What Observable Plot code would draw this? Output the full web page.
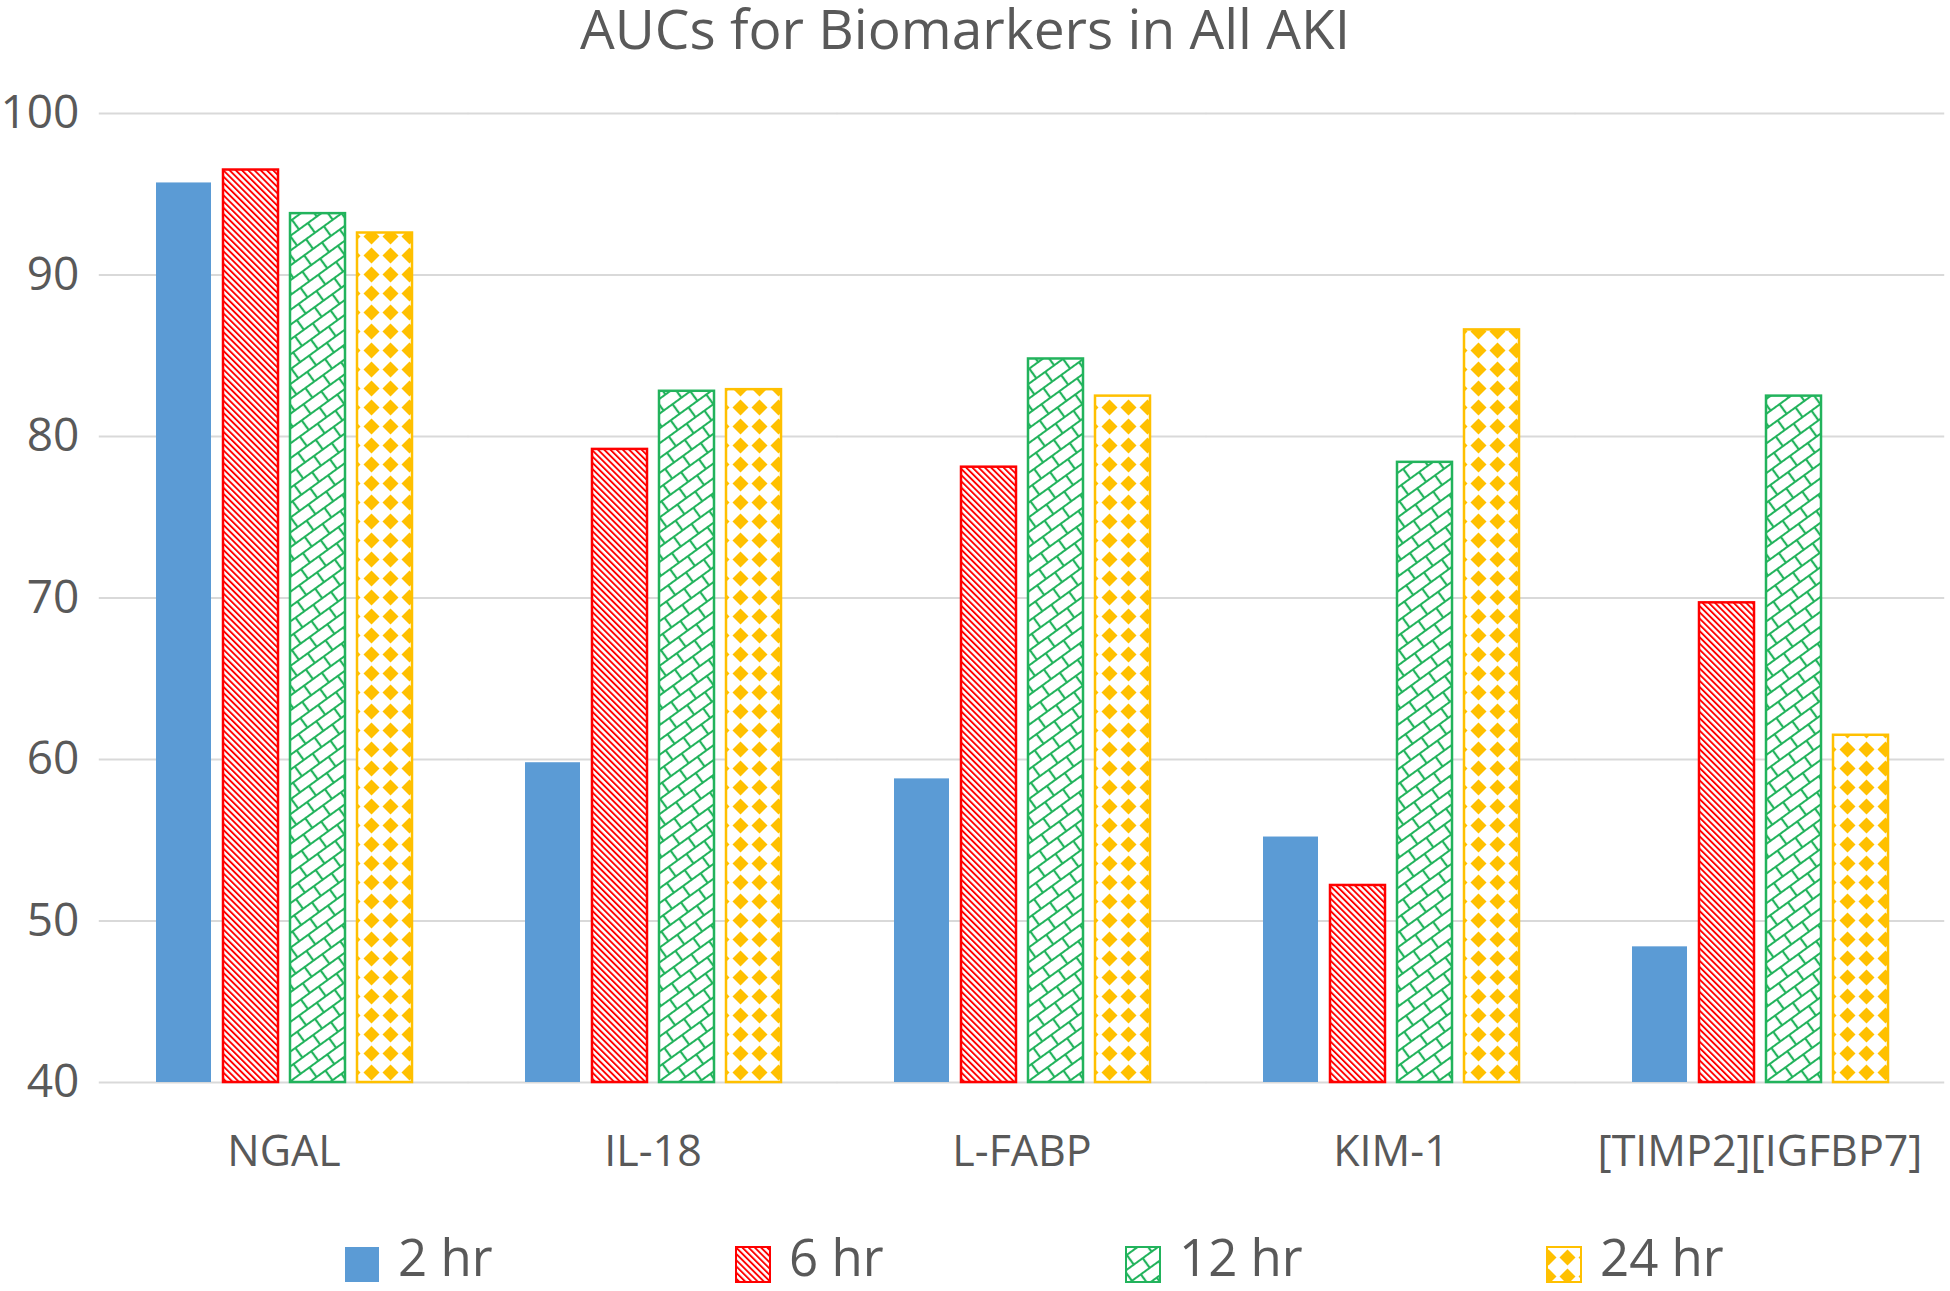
<!DOCTYPE html>
<html><head><meta charset="utf-8">
<script src="https://cdn.jsdelivr.net/npm/d3@7"></script>
<script src="https://cdn.jsdelivr.net/npm/@observablehq/plot@0.6"></script>
<style>
body{margin:0;background:#fff;width:1950px;height:1291px;overflow:hidden;font-family:"Open Sans",sans-serif;color:#595959}
#title{height:56px;text-align:center;font-size:55px;line-height:56px;padding-right:20px;box-sizing:border-box;white-space:nowrap}
#chart svg{display:block}
#legend svg{display:block}
</style></head><body>
<div id="title">AUCs for Biomarkers in All AKI</div>
<div id="chart"></div>
<div id="legend"></div>
<script>
const categories = ["NGAL", "IL-18", "L-FABP", "KIM-1", "[TIMP2][IGFBP7]"];
const series = ["2 hr", "6 hr", "12 hr", "24 hr"];
const auc2hr  = [95.7, 59.8, 58.8, 55.2, 48.4];
const auc6hr  = [96.5, 79.2, 78.1, 52.2, 69.7];
const auc12hr = [93.8, 82.8, 84.8, 78.4, 82.5];
const auc24hr = [92.6, 82.9, 82.5, 86.6, 61.5];
const yTicks = [40, 50, 60, 70, 80, 90, 100];

const valuesBySeries = {"2 hr": auc2hr, "6 hr": auc6hr, "12 hr": auc12hr, "24 hr": auc24hr};
const rows = [];
categories.forEach((c, i) => series.forEach(s => rows.push({cat: c, series: s, value: valuesBySeries[s][i]})));

const fills = {"2 hr": "#5b9bd5", "6 hr": "url(#pat6)", "12 hr": "url(#pat12)", "24 hr": "url(#pat24)"};
const strokes = {"2 hr": "none", "6 hr": "#ff0000", "12 hr": "#22b35c", "24 hr": "#ffc000"};

const W = 1950, ML = 97, MR = 4;
const fxPadInner = 0.304, fxPadOuter = 0.152;
const fxStep = (W - ML - MR) / categories.length;
const outerGap = fxPadOuter * fxStep;
const gridExtend = -outerGap; // extend grid rules across the gaps between groups

const plot = Plot.plot({
  width: W, height: 1135,
  marginTop: 57, marginBottom: 109, marginLeft: ML, marginRight: MR,
  style: {fontFamily: '"Open Sans", sans-serif', fontSize: "43px", color: "#595959", background: "white"},
  fx: {domain: categories, paddingInner: fxPadInner, paddingOuter: fxPadOuter, label: null, axis: "bottom", tickSize: 0, tickPadding: 53},
  x: {domain: series, paddingInner: 0.185, paddingOuter: 0, axis: null},
  y: {domain: [40, 100], ticks: yTicks, label: null, tickSize: 0, tickPadding: 20 + outerGap},
  marks: [
    Plot.ruleY(yTicks, {stroke: "#d9d9d9", strokeWidth: 2, insetLeft: gridExtend, insetRight: gridExtend}),
    ...series.map(s => Plot.barY(rows, {
      filter: d => d.series === s,
      fx: "cat", x: "series", y1: () => 40, y2: "value",
      fill: fills[s], stroke: strokes[s], strokeWidth: 2.5
    }))
  ]
});

const svg = d3.select(plot);
const defs = svg.insert("defs", ":first-child");
// 6 hr: wide diagonal stripes
const p6 = defs.append("pattern").attr("id", "pat6").attr("patternUnits", "userSpaceOnUse")
  .attr("width", 4.4).attr("height", 4.4).attr("patternTransform", "rotate(-45)");
p6.append("rect").attr("width", 4.4).attr("height", 4.4).attr("fill", "white");
p6.append("rect").attr("width", 1.9).attr("height", 4.4).attr("fill", "#ff0000");
// 12 hr: diagonal brick
const p12 = defs.append("pattern").attr("id", "pat12").attr("patternUnits", "userSpaceOnUse")
  .attr("width", 22).attr("height", 24).attr("patternTransform", "rotate(-36)");
p12.append("rect").attr("width", 22).attr("height", 24).attr("fill", "white");
p12.append("path").attr("d", "M0,6H22M0,18H22M5,6V18M16,18V24M16,0V6")
  .attr("stroke", "#22b35c").attr("stroke-width", 2.2).attr("fill", "none");
// 24 hr: diamonds
const p24 = defs.append("pattern").attr("id", "pat24").attr("patternUnits", "userSpaceOnUse")
  .attr("width", 19).attr("height", 19);
p24.append("rect").attr("width", 19).attr("height", 19).attr("fill", "white");
p24.append("polygon").attr("points", "9.5,1.5 17.5,9.5 9.5,17.5 1.5,9.5").attr("fill", "#ffc000");

svg.selectAll("text").attr("fill", "#595959");
svg.selectAll("g[aria-label='y-axis tick label']").attr("font-size", 46);
document.getElementById("chart").append(plot);

// Legend
const legendX = [344, 735, 1125, 1546];
const lg = d3.select("#legend").append("svg").attr("width", 1950).attr("height", 100);
series.forEach((s, i) => {
  lg.append("rect").attr("x", legendX[i] + 1).attr("y", 56).attr("width", 34).attr("height", 35)
    .attr("fill", fills[s]).attr("stroke", strokes[s]).attr("stroke-width", 2);
  lg.append("text").attr("x", legendX[i] + 54).attr("y", 85).attr("font-size", 51)
    .attr("font-family", '"Open Sans", sans-serif').attr("fill", "#595959").text(s);
});
</script>
</body></html>
